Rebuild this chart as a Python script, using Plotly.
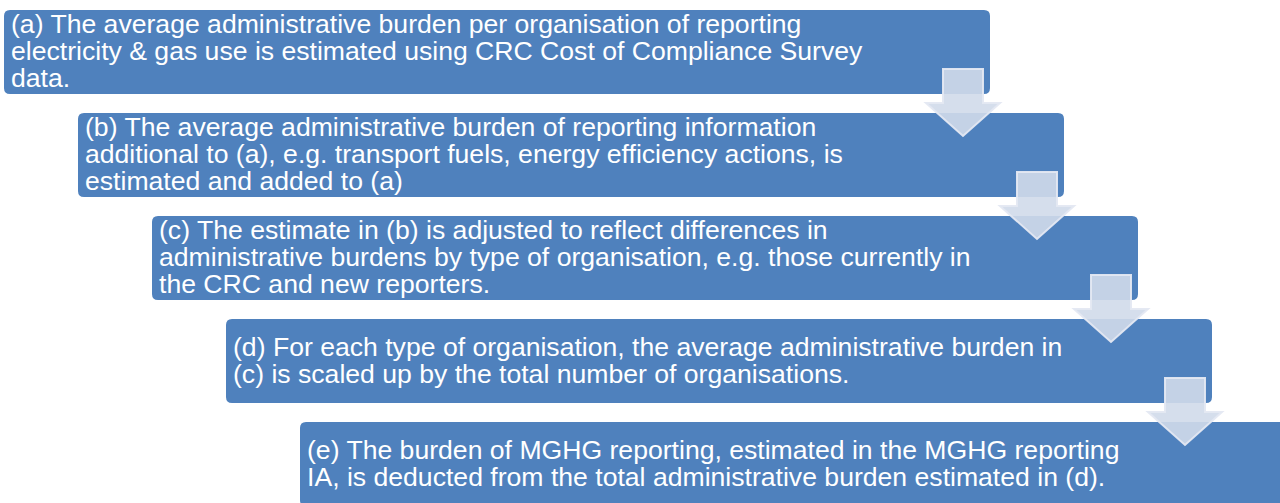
import plotly.graph_objects as go

steps = [
    ["(a) The average administrative burden per organisation of reporting",
     "electricity & gas use is estimated using CRC Cost of Compliance Survey",
     "data."],
    ["(b) The average administrative burden of reporting information",
     "additional to (a), e.g. transport fuels, energy efficiency actions, is",
     "estimated and added to (a)"],
    ["(c) The estimate in (b) is adjusted to reflect differences in",
     "administrative burdens by type of organisation, e.g. those currently in",
     "the CRC and new reporters."],
    ["(d) For each type of organisation, the average administrative burden in",
     "(c) is scaled up by the total number of organisations."],
    ["(e) The burden of MGHG reporting, estimated in the MGHG reporting",
     "IA, is deducted from the total administrative burden estimated in (d)."],
]

W, H = 1280, 503
X0, Y0 = 4, 10
DX, DY = 74, 103
BW, BH = 986, 84
R = 6
LINE_GAP = 27
FONT_SIZE = 26.6
BOX_COLOR = "#4f81bd"
ARROW_FILL = "rgba(208,218,234,0.9)"
ARROW_LINE = "rgba(228,232,242,0.95)"


def rrect(x0, y0, x1, y1, r):
    return (f"M{x0+r},{y0} L{x1-r},{y0} Q{x1},{y0} {x1},{y0+r} "
            f"L{x1},{y1-r} Q{x1},{y1} {x1-r},{y1} L{x0+r},{y1} "
            f"Q{x0},{y1} {x0},{y1-r} L{x0},{y0+r} Q{x0},{y0} {x0+r},{y0} Z")


shapes = []
annotations = []
for i, lines in enumerate(steps):
    x0 = X0 + i * DX
    y0 = Y0 + i * DY
    x1 = x0 + BW
    y1 = y0 + BH
    shapes.append(dict(type="path", path=rrect(x0, y0, x1, y1, R),
                       fillcolor=BOX_COLOR, line=dict(width=0), layer="below"))
    cy = (y0 + y1) / 2
    n = len(lines)
    for k, line in enumerate(lines):
        annotations.append(dict(
            x=x0 + 5, y=cy + (k - (n - 1) / 2) * LINE_GAP - 1,
            xref="x", yref="y", text=line, showarrow=False,
            xanchor="left", yanchor="middle", align="left",
            font=dict(family="Liberation Sans, Arial", size=FONT_SIZE, color="white")))

for i in range(len(steps) - 1):
    x1 = X0 + i * DX + BW
    yb = Y0 + i * DY + BH
    sl, sr = x1 - 47, x1 - 7
    hl, hr = x1 - 64, x1 + 10
    st, ht, tip = yb - 25, yb + 9, yb + 42
    cx = (hl + hr) / 2
    p = (f"M{sl},{st} L{sr},{st} L{sr},{ht} L{hr},{ht} L{cx},{tip} "
         f"L{hl},{ht} L{sl},{ht} Z")
    shapes.append(dict(type="path", path=p, fillcolor=ARROW_FILL,
                       line=dict(color=ARROW_LINE, width=2), layer="above"))

fig = go.Figure()
fig.update_layout(
    width=W, height=H,
    margin=dict(l=0, r=0, t=0, b=0),
    paper_bgcolor="white", plot_bgcolor="white",
    xaxis=dict(range=[0, W], visible=False, fixedrange=True),
    yaxis=dict(range=[H, 0], visible=False, fixedrange=True),
    shapes=shapes, annotations=annotations,
    showlegend=False,
)
fig.write_html("out.html", config=dict(displayModeBar=False),
               post_script="document.body.style.margin='0';document.body.style.overflow='hidden';")
